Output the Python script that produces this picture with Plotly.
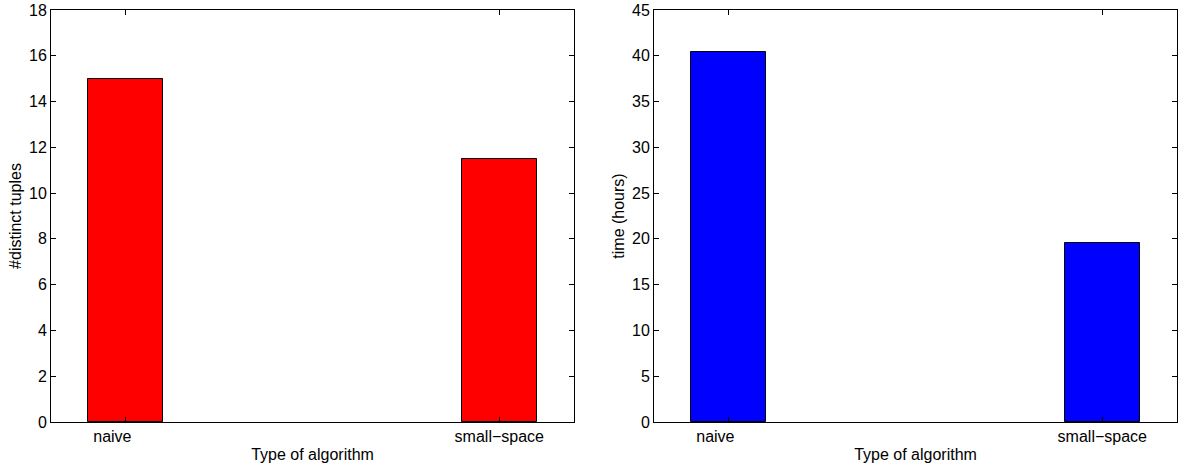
import plotly.graph_objects as go

# Two MATLAB-style bar panels comparing the algorithms.
# Labels are padded to equal length, as a MATLAB char matrix would be.
algorithms = ["naive" + "\u00a0" * 6, "small\u2212space"]
distinct_tuples = [15.0, 11.47]
time_hours = [40.45, 19.5]

FONT = "Liberation Sans, Arial, Helvetica, sans-serif"
FS = 16

fig = go.Figure()
fig.add_trace(go.Bar(
    x=[1, 2], y=distinct_tuples, width=0.2,
    marker=dict(color="#ff0000", line=dict(color="black", width=1)),
    xaxis="x", yaxis="y", showlegend=False,
))
fig.add_trace(go.Bar(
    x=[1, 2], y=time_hours, width=0.2,
    marker=dict(color="#0000ff", line=dict(color="black", width=1)),
    xaxis="x2", yaxis="y2", showlegend=False,
))

common_x = dict(
    range=[0.8, 2.2], tickvals=[1, 2], ticktext=algorithms,
    ticks="inside", ticklen=5, tickcolor="black",
    showline=True, linecolor="black", linewidth=1, mirror="ticks",
    showgrid=False, zeroline=False, automargin=False,
    title=dict(text="Type of algorithm", standoff=4, font=dict(size=FS, color="black")),
    tickfont=dict(size=FS, color="black"),
)
common_y = dict(
    ticks="inside", ticklen=5, tickcolor="black",
    showline=True, linecolor="black", linewidth=1, mirror="ticks",
    showgrid=False, zeroline=False, automargin=False,
    tickfont=dict(size=FS, color="black"),
)

fig.update_layout(
    width=1178, height=468,
    margin=dict(l=0, r=0, t=10, b=46, autoexpand=False),
    paper_bgcolor="white", plot_bgcolor="white",
    font=dict(family=FONT, size=FS, color="black"),
    xaxis=dict(domain=[51 / 1178, 574 / 1178], anchor="y", **common_x),
    yaxis=dict(domain=[0, 1], anchor="x", range=[0, 18], dtick=2,
               title=dict(text="#distinct tuples", standoff=3, font=dict(size=FS)),
               **common_y),
    xaxis2=dict(domain=[654 / 1178, 1177 / 1178], anchor="y2", **common_x),
    yaxis2=dict(domain=[0, 1], anchor="x2", range=[0, 45], dtick=5,
                title=dict(text="time (hours)", standoff=3, font=dict(size=FS)),
                **common_y),
    bargap=0,
)

fig.write_html("out.html")
